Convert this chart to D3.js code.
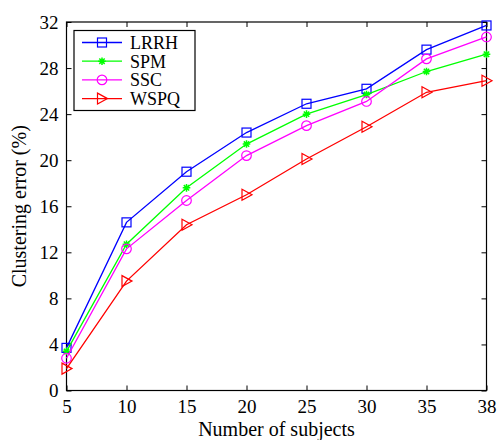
<!DOCTYPE html>
<html>
<head>
<meta charset="utf-8">
<script src="https://cdn.jsdelivr.net/npm/d3@7"></script>
<style>
  html, body { margin: 0; padding: 0; background: #fff; }
  svg text { font-family: "Liberation Serif", "DejaVu Serif", "Times New Roman", serif; fill: #000; }
</style>
</head>
<body>
<svg id="chart" width="499" height="440"></svg>
<script>
// Number of subjects on the x axis
const subjects = [5, 10, 15, 20, 25, 30, 35, 38];
const yTicks = [0, 4, 8, 12, 16, 20, 24, 28, 32];

// Clustering error (%) per method
const lrrh = [3.7, 14.6, 19.0, 22.4, 24.9, 26.2, 29.6, 31.7];
const spm  = [3.4, 12.7, 17.6, 21.4, 24.0, 25.7, 27.7, 29.2];
const ssc  = [2.8, 12.3, 16.5, 20.4, 23.0, 25.1, 28.8, 30.7];
const wspq = [1.9, 9.5, 14.4, 17.0, 20.1, 22.9, 25.9, 26.9];

const methods = ["LRRH", "SPM", "SSC", "WSPQ"];
const colors = ["#0000ff", "#00ff00", "#ff00ff", "#ff0000"];
const markers = ["square", "star", "circle", "triangle"];
const seriesValues = [lrrh, spm, ssc, wspq];

const serif = "'Liberation Serif', 'DejaVu Serif', serif";
const svg = d3.select("#chart");
const plotLeft = 66.5, plotRight = 486.5, plotTop = 22, plotBottom = 390.5;

const x = d3.scalePoint().domain(subjects).range([plotLeft, plotRight]);
const y = d3.scaleLinear().domain([0, 32]).range([plotBottom, plotTop]);

// Inward ticks on all four sides
const tickLen = 5;
const axB = svg.append("g").attr("transform", `translate(0,${plotBottom})`)
  .call(d3.axisBottom(x).tickSize(-tickLen).tickPadding(9));
const axT = svg.append("g").attr("transform", `translate(0,${plotTop})`)
  .call(d3.axisTop(x).tickSize(-tickLen).tickFormat(""));
const axL = svg.append("g").attr("transform", `translate(${plotLeft},0)`)
  .call(d3.axisLeft(y).tickValues(yTicks).tickSize(-tickLen).tickPadding(8));
const axR = svg.append("g").attr("transform", `translate(${plotRight},0)`)
  .call(d3.axisRight(y).tickValues(yTicks).tickSize(-tickLen).tickFormat(""));

[axB, axT, axL, axR].forEach(g => {
  g.attr("font-family", serif).attr("font-size", 19);
  g.select(".domain").remove();
  g.selectAll("line").attr("stroke", "#000").attr("stroke-width", 1);
  g.selectAll("text").attr("fill", "#000");
});

// Frame
svg.append("rect").attr("x", plotLeft).attr("y", plotTop)
  .attr("width", plotRight - plotLeft).attr("height", plotBottom - plotTop)
  .attr("fill", "none").attr("stroke", "#000").attr("stroke-width", 1.2);

function drawMarker(g, type, cx, cy, color) {
  if (type === "square") {
    g.append("rect").attr("x", cx - 4.5).attr("y", cy - 4.5)
      .attr("width", 9).attr("height", 9)
      .attr("fill", "none").attr("stroke", color).attr("stroke-width", 1.2);
  } else if (type === "circle") {
    g.append("circle").attr("cx", cx).attr("cy", cy).attr("r", 4.8)
      .attr("fill", "none").attr("stroke", color).attr("stroke-width", 1.2);
  } else if (type === "triangle") {
    g.append("path")
      .attr("d", `M${cx - 4.5},${cy - 5.5} L${cx + 5.5},${cy} L${cx - 4.5},${cy + 5.5} Z`)
      .attr("fill", "none").attr("stroke", color).attr("stroke-width", 1.2);
  } else if (type === "star") {
    const r = 3.8;
    let d = "";
    for (let k = 0; k < 4; k++) {
      const a = k * Math.PI / 4;
      const dx = r * Math.cos(a), dy = r * Math.sin(a);
      d += `M${cx - dx},${cy - dy} L${cx + dx},${cy + dy} `;
    }
    g.append("path").attr("d", d).attr("stroke", color).attr("stroke-width", 1.5);
    g.append("circle").attr("cx", cx).attr("cy", cy).attr("r", 1.6).attr("fill", color);
  }
}

const line = d3.line().x((d, i) => x(subjects[i])).y(d => y(d));

seriesValues.forEach((vals, s) => {
  const g = svg.append("g");
  g.append("path").datum(vals).attr("d", line)
    .attr("fill", "none").attr("stroke", colors[s]).attr("stroke-width", 1.3);
  vals.forEach((v, i) => drawMarker(g, markers[s], x(subjects[i]), y(v), colors[s]));
});

// Legend
const lg = svg.append("g");
lg.append("rect").attr("x", 74).attr("y", 30.5).attr("width", 121).attr("height", 80)
  .attr("fill", "#fff").attr("stroke", "#000").attr("stroke-width", 1.2);
methods.forEach((m, i) => {
  const ly = 42.5 + i * 18.7;
  lg.append("line").attr("x1", 82).attr("x2", 122).attr("y1", ly).attr("y2", ly)
    .attr("stroke", colors[i]).attr("stroke-width", 1.3);
  drawMarker(lg, markers[i], 102, ly, colors[i]);
  lg.append("text").attr("x", 130).attr("y", ly + 6.3)
    .attr("font-family", serif).attr("font-size", 18).text(m);
});

// Axis titles
svg.append("text").attr("x", (plotLeft + plotRight) / 2).attr("y", 436)
  .attr("text-anchor", "middle").attr("font-family", serif).attr("font-size", 20)
  .text("Number of subjects");
svg.append("text").attr("transform", `translate(26,${(plotTop + plotBottom) / 2}) rotate(-90)`)
  .attr("text-anchor", "middle").attr("font-family", serif).attr("font-size", 20)
  .text("Clustering error (%)");
</script>
</body>
</html>
